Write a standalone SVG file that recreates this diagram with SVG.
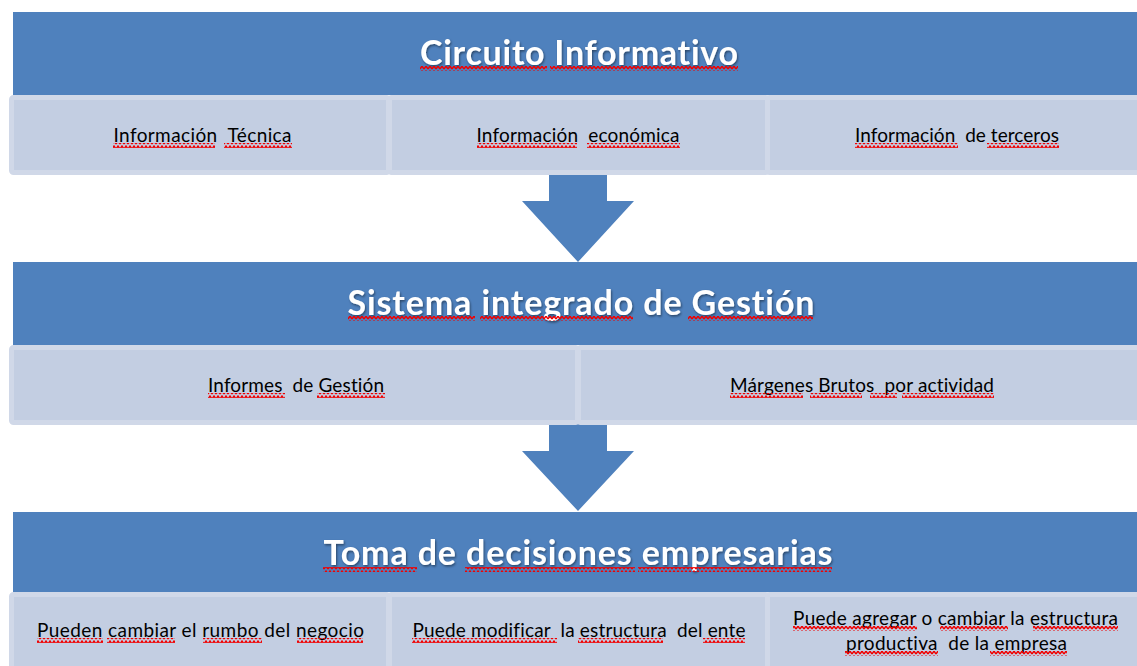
<svg xmlns="http://www.w3.org/2000/svg" width="1137" height="666" viewBox="0 0 1137 666">
<defs>
<style>
.bar{fill:#4f81bd}
.box{fill:#c3cee2;stroke:#d0d8e8;stroke-width:5}
.arrow{fill:#4f81bd}
.title{font-family:Lato,"Open Sans","Liberation Sans",sans-serif;font-weight:bold;font-size:34px;fill:#ffffff;text-anchor:middle;filter:url(#shadow);font-variant-ligatures:none;white-space:pre}
.label{font-family:Lato,"Open Sans","Liberation Sans",sans-serif;font-size:19px;fill:#000000;text-anchor:middle;font-variant-ligatures:none;white-space:pre}
.sq{fill:url(#squig)}
</style>
<filter id="shadow" x="-10%" y="-30%" width="120%" height="160%">
<feDropShadow dx="1" dy="1.5" stdDeviation="1" flood-color="#000000" flood-opacity="0.45"/>
</filter>
<pattern id="squig" patternUnits="userSpaceOnUse" width="4" height="5">
<path d="M0,4 L2,1 L4,4" fill="none" stroke="#f00000" stroke-width="1.4"/>
</pattern>
</defs>

<g id="connectors">
<polygon class="arrow" points="549,172 607,172 607,201 634,201 578,262 522,201 549,201"/>
<polygon class="arrow" points="549,422 607,422 607,451 634,451 578,511 522,451 549,451"/>
</g>

<g id="circuito">
<rect class="bar" x="13" y="12" width="1124" height="83"/>
<text class="title" x="579" y="65" textLength="318">Circuito Informativo</text>
<rect class="sq" x="420" y="66" width="127" height="5"/>
<rect class="sq" x="550" y="66" width="188" height="5"/>
</g>
<g id="info-tecnica">
<rect class="box" x="11.5" y="97.5" width="377" height="75" rx="2"/>
<text class="label" x="202.5" y="142" textLength="178" xml:space="preserve">Información  Técnica</text>
<rect class="sq" x="113" y="143" width="102" height="5"/>
<rect class="sq" x="224" y="143" width="68" height="5"/>
</g>
<g id="info-economica">
<rect class="box" x="389.5" y="97.5" width="378" height="75" rx="2"/>
<text class="label" x="578" y="142" textLength="203" xml:space="preserve">Información  económica</text>
<rect class="sq" x="477" y="143" width="100" height="5"/>
<rect class="sq" x="587" y="143" width="93" height="5"/>
</g>
<g id="info-terceros">
<rect class="box" x="767.5" y="97.5" width="380" height="75" rx="2"/>
<text class="label" x="957" y="142" textLength="204" xml:space="preserve">Información  de terceros</text>
<rect class="sq" x="855" y="143" width="103" height="5"/>
<rect class="sq" x="987" y="143" width="72" height="5"/>
</g>

<g id="sistema">
<rect class="bar" x="13" y="262" width="1124" height="83"/>
<text class="title" x="581" y="315" textLength="467">Sistema integrado de Gestión</text>
<rect class="sq" x="348" y="316" width="127" height="5"/>
<rect class="sq" x="480" y="316" width="153" height="5"/>
<rect class="sq" x="688" y="316" width="125" height="5"/>
</g>
<g id="informes">
<rect class="box" x="11.5" y="347.5" width="566" height="75" rx="2"/>
<text class="label" x="296" y="392" textLength="176" xml:space="preserve">Informes  de Gestión</text>
<rect class="sq" x="208" y="393" width="77" height="5"/>
<rect class="sq" x="317" y="393" width="68" height="5"/>
</g>
<g id="margenes">
<rect class="box" x="578.5" y="347.5" width="570" height="75" rx="2"/>
<text class="label" x="862" y="392" textLength="264" xml:space="preserve">Márgenes Brutos  por actividad</text>
<rect class="sq" x="730" y="393" width="73" height="5"/>
<rect class="sq" x="810" y="393" width="52" height="5"/>
<rect class="sq" x="870" y="393" width="27" height="5"/>
<rect class="sq" x="902" y="393" width="92" height="5"/>
</g>

<g id="toma">
<rect class="bar" x="13" y="512" width="1124" height="80"/>
<text class="title" x="578" y="565" textLength="509">Toma de decisiones empresarias</text>
<rect class="sq" x="323" y="567" width="94" height="5"/>
<rect class="sq" x="465" y="567" width="170" height="5"/>
<rect class="sq" x="638" y="567" width="194" height="5"/>
</g>
<g id="rumbo">
<rect class="box" x="11.5" y="594.5" width="377" height="100" rx="2"/>
<text class="label" x="200.5" y="637" textLength="327">Pueden cambiar el rumbo del negocio</text>
<rect class="sq" x="37" y="638" width="66" height="5"/>
<rect class="sq" x="107" y="638" width="68" height="5"/>
<rect class="sq" x="203" y="638" width="59" height="5"/>
<rect class="sq" x="297" y="638" width="66" height="5"/>
</g>
<g id="estructura">
<rect class="box" x="389.5" y="594.5" width="378" height="100" rx="2"/>
<text class="label" x="579" y="637" textLength="333" xml:space="preserve">Puede modificar  la estructura  del ente</text>
<rect class="sq" x="412" y="638" width="145" height="5"/>
<rect class="sq" x="578" y="638" width="85" height="5"/>
<rect class="sq" x="703" y="638" width="42" height="5"/>
</g>
<g id="productiva">
<rect class="box" x="767.5" y="594.5" width="380" height="100" rx="2"/>
<text class="label" x="955.5" y="625" textLength="325">Puede agregar o cambiar la estructura</text>
<text class="label" x="956.5" y="650" textLength="221" xml:space="preserve">productiva  de la empresa</text>
<rect class="sq" x="793" y="626" width="124" height="5"/>
<rect class="sq" x="940" y="626" width="68" height="5"/>
<rect class="sq" x="1033" y="626" width="85" height="5"/>
<rect class="sq" x="845" y="651" width="93" height="5"/>
<rect class="sq" x="990" y="651" width="77" height="5"/>
</g>
</svg>
